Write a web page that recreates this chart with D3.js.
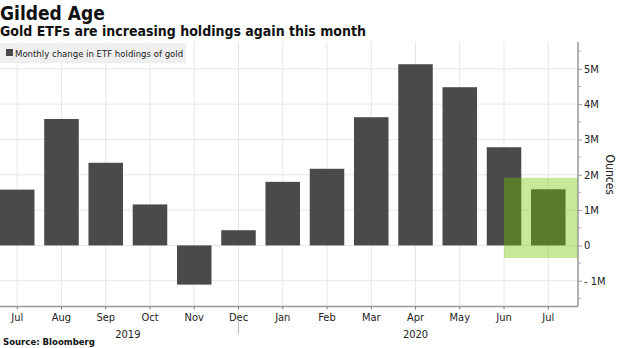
<!DOCTYPE html>
<html>
<head>
<meta charset="utf-8">
<script src="https://cdn.jsdelivr.net/npm/d3@7"></script>
<style>
  body { margin: 0; background: #fff; }
  text { font-family: "DejaVu Sans Condensed", "DejaVu Sans", sans-serif; }
  .hd { font-family: "DejaVu Sans Condensed", "DejaVu Sans", sans-serif; font-weight: bold; }
</style>
</head>
<body>
<div id="chart"></div>
<script>
// monthly change in gold ETF holdings, millions of ounces
var monthKeys = ["2019-07","2019-08","2019-09","2019-10","2019-11","2019-12",
                 "2020-01","2020-02","2020-03","2020-04","2020-05","2020-06","2020-07"];
var monthLabels = ["Jul","Aug","Sep","Oct","Nov","Dec","Jan","Feb","Mar","Apr","May","Jun","Jul"];
var holdingsChange = [1.58, 3.58, 2.34, 1.16, -1.11, 0.43, 1.80, 2.17, 3.63, 5.13, 4.48, 2.78, 1.59];
var yearLabels = [{ year: "2019", from: "2019-07", to: "2019-12" },
                  { year: "2020", from: "2020-01", to: "2020-07" }];
var yTicks = [-1, 0, 1, 2, 3, 4, 5];
// highlighted latest readings box (in data units)
var highlight = { from: "2020-06", top: 1.915, bottom: -0.36 };

var W = 620, H = 348;
var axisX = 578, plotTop = 42, plotBottom = 306.5;

var svg = d3.select("#chart").append("svg")
  .attr("width", W).attr("height", H);

var x = d3.scaleBand()
  .domain(monthKeys)
  .range([-4.9, 570.4])
  .paddingInner(0.22)
  .paddingOuter(0.11);
var cx = function(k) { return x(k) + x.bandwidth() / 2; };

var y = d3.scaleLinear().domain([-1.73, 5.76]).range([plotBottom, plotTop]);

// grid
svg.append("g").selectAll("line").data(yTicks).enter().append("line")
  .attr("x1", 0).attr("x2", axisX)
  .attr("y1", function(d) { return y(d); }).attr("y2", function(d) { return y(d); })
  .attr("stroke", "#e6e6e6").attr("stroke-width", 1);
svg.append("g").selectAll("line").data(monthKeys).enter().append("line")
  .attr("x1", function(d) { return cx(d); }).attr("x2", function(d) { return cx(d); })
  .attr("y1", plotTop).attr("y2", plotBottom)
  .attr("stroke", "#e6e6e6").attr("stroke-width", 1);

// bars
svg.append("g").selectAll("rect").data(holdingsChange).enter().append("rect")
  .attr("x", function(d, i) { return x(monthKeys[i]); })
  .attr("width", x.bandwidth())
  .attr("y", function(d) { return y(Math.max(0, d)); })
  .attr("height", function(d) { return Math.abs(y(d) - y(0)); })
  .attr("fill", "#4a4a4a");

// highlight box
svg.append("rect")
  .attr("x", cx(highlight.from))
  .attr("y", y(highlight.top))
  .attr("width", axisX - cx(highlight.from))
  .attr("height", y(highlight.bottom) - y(highlight.top))
  .attr("fill", "rgb(115,196,0)")
  .attr("fill-opacity", 0.4);

// y axis on the right
var yAxis = d3.axisRight(y)
  .tickValues(yTicks)
  .tickSize(4)
  .tickPadding(2)
  .tickFormat(function(d) { return d === 0 ? "0" : (d < 0 ? "- " + Math.abs(d) : d) + "M"; });
var gy = svg.append("g").attr("transform", "translate(" + axisX + ",0)").call(yAxis);
gy.select(".domain").remove();
gy.append("line").attr("x1", 0).attr("x2", 0).attr("y1", plotTop).attr("y2", plotBottom)
  .attr("stroke", "#999").attr("stroke-width", 1.5);
gy.selectAll(".tick line").attr("stroke", "#999");
gy.selectAll(".tick text").attr("fill", "#222").style("font-size", "11px")
  .style("font-family", "'DejaVu Sans Condensed', sans-serif");
// minor ticks
gy.append("g").selectAll("line").data(d3.range(-1.5, 5.6, 1)).enter().append("line")
  .attr("x1", 0).attr("x2", 3)
  .attr("y1", function(d) { return y(d); }).attr("y2", function(d) { return y(d); })
  .attr("stroke", "#aaa");

svg.append("text")
  .attr("transform", "translate(606," + y(2.0) + ") rotate(90)")
  .attr("text-anchor", "middle")
  .style("font-size", "12px").attr("fill", "#222")
  .text("Ounces");

// x axis
var xAxis = d3.axisBottom(x)
  .tickSize(3)
  .tickPadding(4)
  .tickFormat(function(d, i) { return monthLabels[i]; });
var gx = svg.append("g").attr("transform", "translate(0," + plotBottom + ")").call(xAxis);
gx.select(".domain").remove();
gx.append("line").attr("x1", 0).attr("x2", axisX).attr("y1", 0).attr("y2", 0)
  .attr("stroke", "#999").attr("stroke-width", 1.5);
gx.selectAll(".tick line").attr("stroke", "#777");
gx.selectAll(".tick text").attr("fill", "#222").style("font-size", "11px")
  .style("font-family", "'DejaVu Sans Condensed', sans-serif");

// year labels and separator
svg.append("g").selectAll("text").data(yearLabels).enter().append("text")
  .attr("x", function(d) { return (cx(d.from) + cx(d.to)) / 2; })
  .attr("y", 338)
  .attr("text-anchor", "middle")
  .style("font-size", "11px").attr("fill", "#222")
  .text(function(d) { return d.year; });
svg.append("line")
  .attr("x1", cx("2019-12")).attr("x2", cx("2019-12"))
  .attr("y1", 320).attr("y2", 334)
  .attr("stroke", "#bbb");

// legend
svg.append("rect").attr("x", 0).attr("y", 43).attr("width", 186).attr("height", 20)
  .attr("fill", "#efefef");
svg.append("rect").attr("x", 6).attr("y", 49).attr("width", 7).attr("height", 7)
  .attr("fill", "#4a4a4a");
svg.append("text").attr("x", 15).attr("y", 57)
  .style("font-size", "9.5px").attr("fill", "#222")
  .text("Monthly change in ETF holdings of gold");

// titles
svg.append("text").attr("class", "hd").attr("x", 0).attr("y", 20)
  .style("font-size", "19px").attr("fill", "#111").text("Gilded Age");
svg.append("text").attr("class", "hd").attr("x", 0).attr("y", 36)
  .style("font-size", "14px").attr("fill", "#111")
  .text("Gold ETFs are increasing holdings again this month");
svg.append("text").attr("class", "hd").attr("x", 3).attr("y", 345)
  .style("font-size", "9.5px").attr("fill", "#111").text("Source: Bloomberg");
</script>
</body>
</html>
